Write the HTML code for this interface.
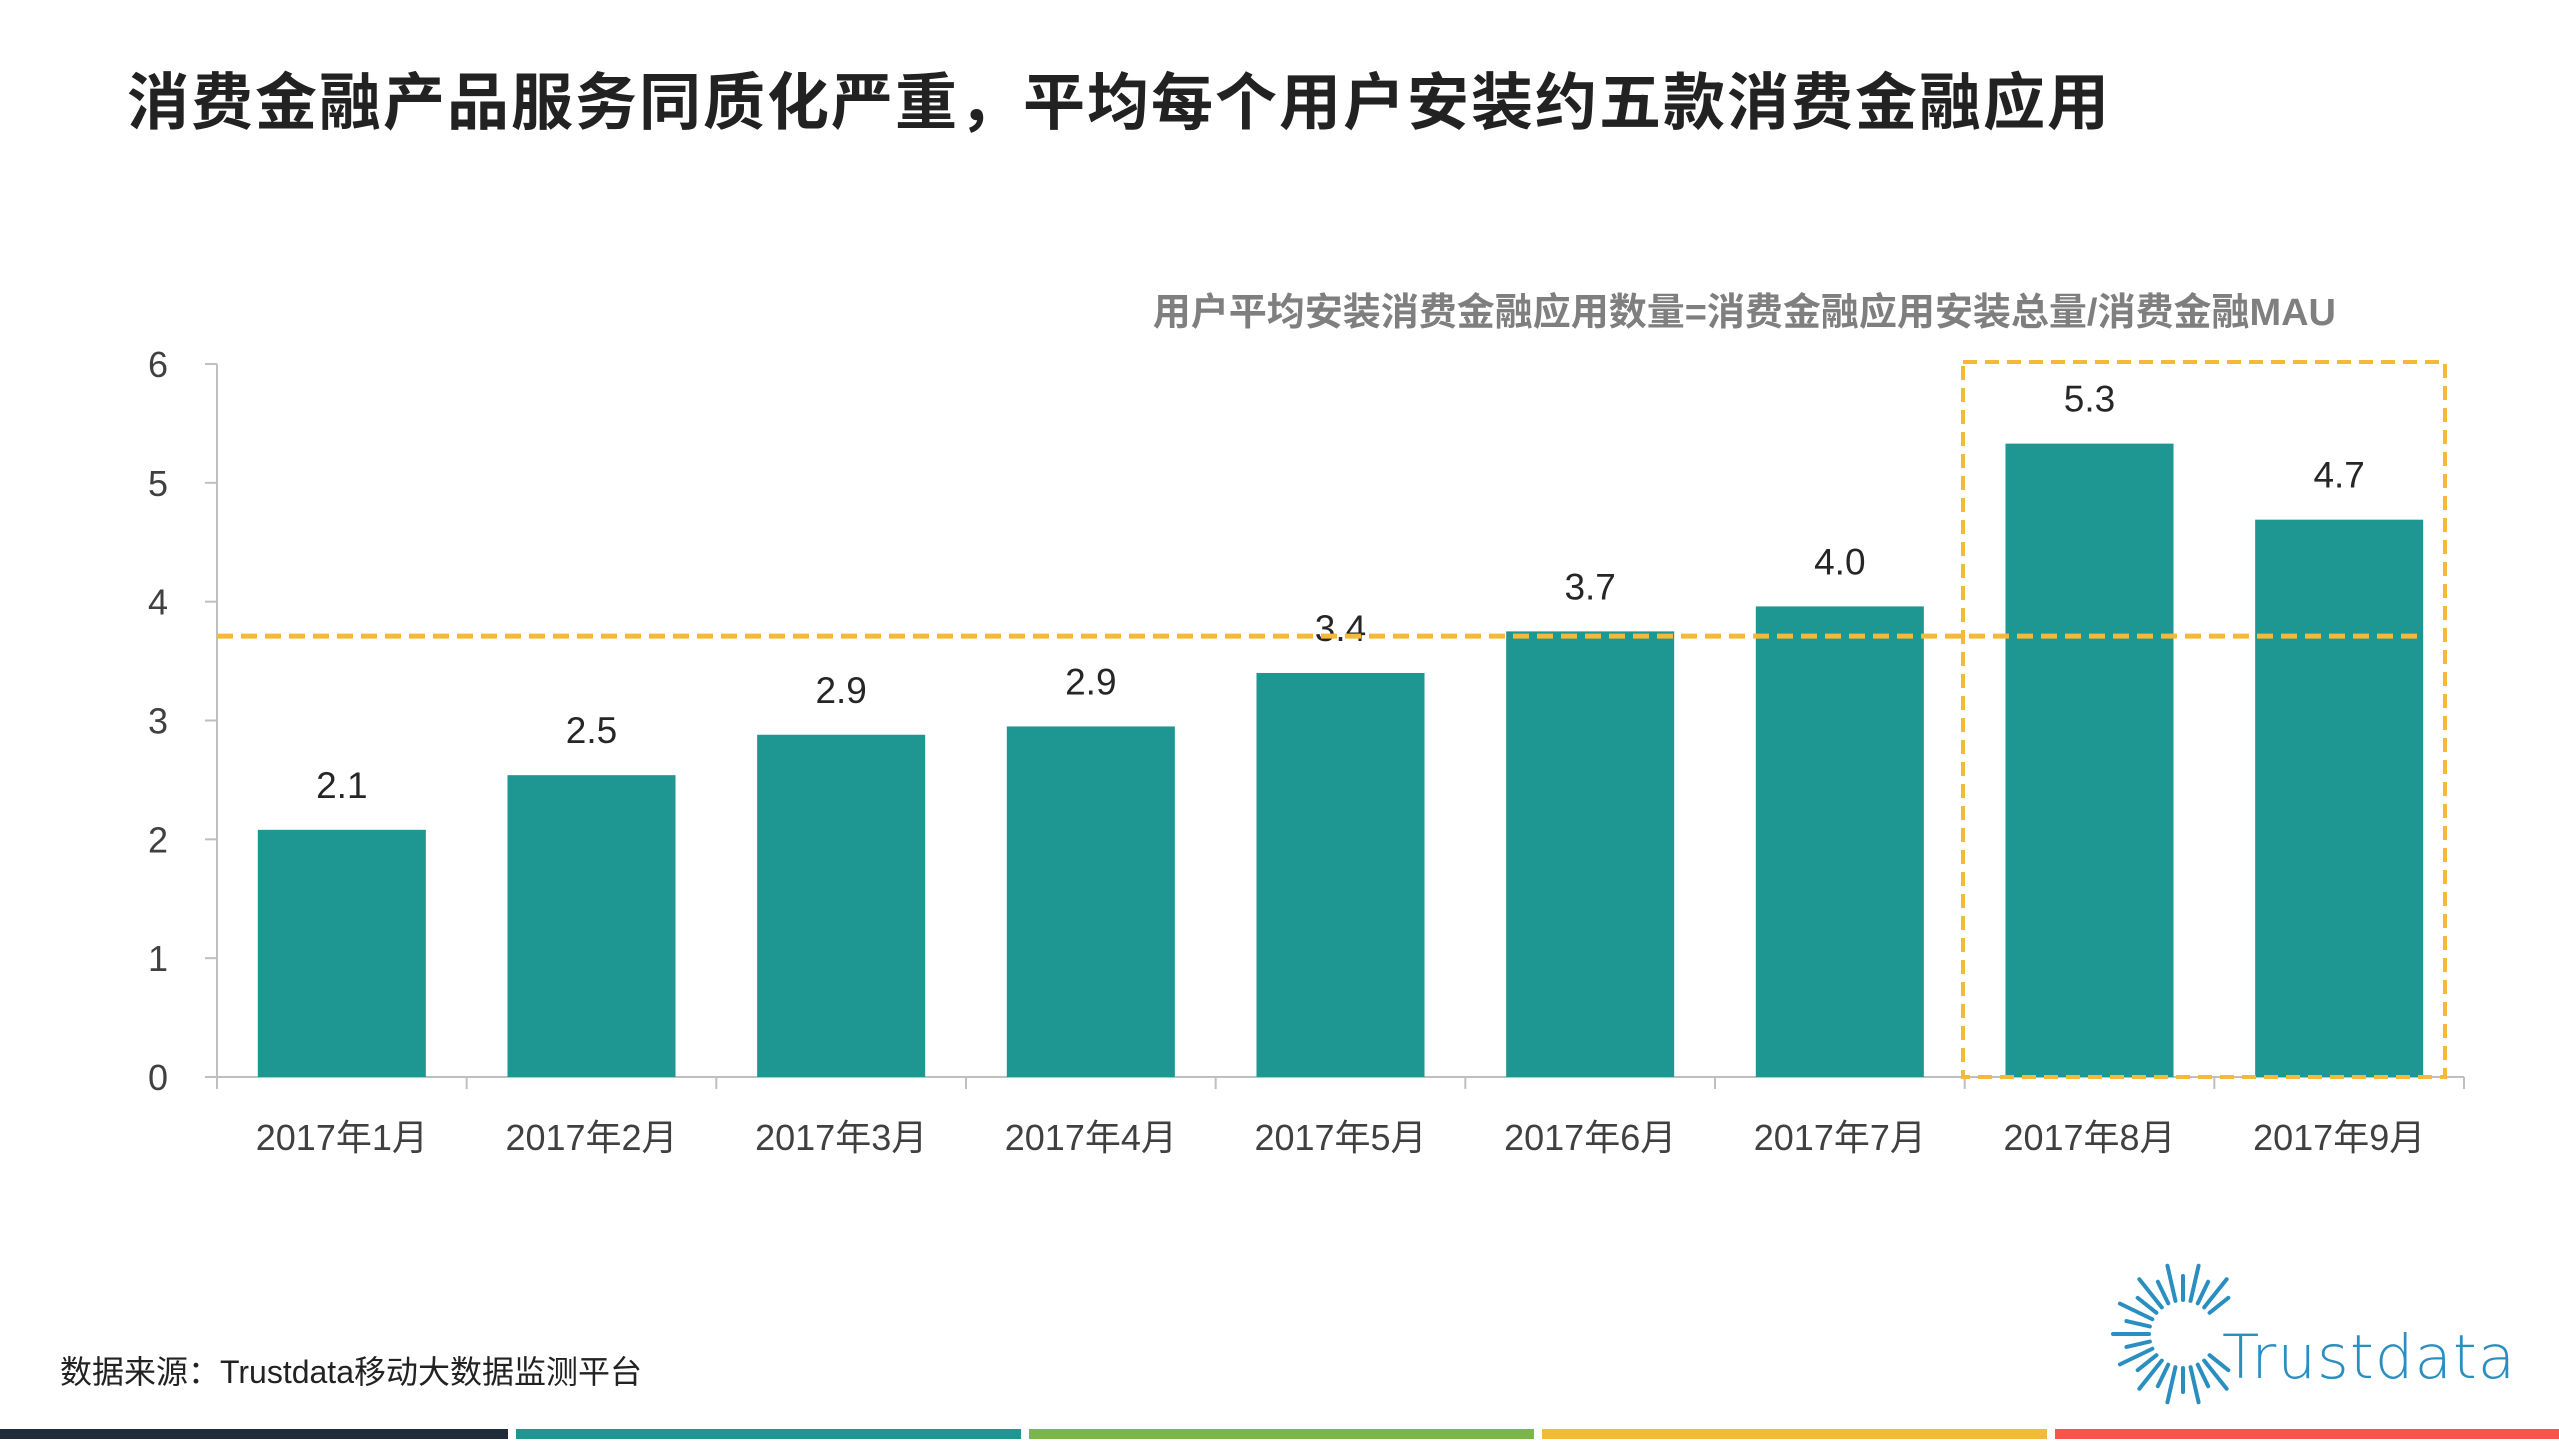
<!DOCTYPE html>
<html><head><meta charset="utf-8"><style>
body{margin:0;width:2559px;height:1439px;background:#fff;overflow:hidden;font-family:"Liberation Sans","Noto Sans CJK SC",sans-serif;}
</style></head><body>
<svg id="c" width="2559" height="1439" xmlns="http://www.w3.org/2000/svg">
<text x="127" y="124" font-size="62" font-weight="bold" fill="#222" letter-spacing="2" font-family="Liberation Sans, Noto Sans CJK SC, sans-serif">消费金融产品服务同质化严重，平均每个用户安装约五款消费金融应用</text>
<text x="2336" y="325" font-size="38" font-weight="bold" fill="#7f7f7f" text-anchor="end" font-family="Liberation Sans, Noto Sans CJK SC, sans-serif">用户平均安装消费金融应用数量=消费金融应用安装总量/消费金融MAU</text>
<g id="plot"></g>
<text x="60" y="1383" font-size="32" fill="#222" font-family="Liberation Sans, Noto Sans CJK SC, sans-serif">数据来源：Trustdata移动大数据监测平台</text>
<g id="logo"></g>
<text x="2222" y="1378" font-size="61" fill="#2a8fc0" font-family="DejaVu Sans, sans-serif" font-weight="200" letter-spacing="1">Trustdata</text>
<rect x="0" y="1429" width="508" height="10" fill="#1f2d3a"/>
<rect x="516" y="1429" width="505" height="10" fill="#1e9692"/>
<rect x="1029" y="1429" width="505" height="10" fill="#7ab648"/>
<rect x="1542" y="1429" width="505" height="10" fill="#f5b93a"/>
<rect x="2055" y="1429" width="504" height="10" fill="#f4564a"/>
</svg>
<script>
const categories=["2017年1月","2017年2月","2017年3月","2017年4月","2017年5月","2017年6月","2017年7月","2017年8月","2017年9月"];
const values=[2.08,2.54,2.88,2.95,3.40,3.75,3.96,5.33,4.69];
const valueLabels=["2.1","2.5","2.9","2.9","3.4","3.7","4.0","5.3","4.7"];
const yTicks=[0,1,2,3,4,5,6];
const averageValue=3.71;
const NS="http://www.w3.org/2000/svg";
const X0=217,X1=2464,Y0=1077,Y6=364;
const band=(X1-X0)/categories.length;
const y=v=>Y0-(Y0-Y6)*v/6;
const xc=i=>X0+band*(i+0.5);
const g=document.getElementById('plot');
function mk(t,a,txt){const e=document.createElementNS(NS,t);for(const k in a)e.setAttribute(k,a[k]);if(txt!==undefined)e.textContent=txt;g.appendChild(e);return e;}
let e;
e=mk('line',{x1:X0,y1:Y6,x2:X0,y2:Y0,stroke:'#bfbfbf','stroke-width':2});


e=mk('line',{x1:X0,y1:Y0,x2:X1,y2:Y0,stroke:'#bfbfbf','stroke-width':2});


yTicks.forEach(t=>{
 e=mk('line',{x1:X0-12,y1:y(t),x2:X0,y2:y(t),stroke:'#bfbfbf','stroke-width':2});
 
 
 e=mk('text',{x:168,y:y(t)+13,'font-size':36,fill:'#404040','text-anchor':'end'},String(t));
 
 
});
for(let i=0;i<=categories.length;i++){
 e=mk('line',{x1:X0+band*i,y1:Y0,x2:X0+band*i,y2:Y0+12,stroke:'#bfbfbf','stroke-width':2});
 
 
}
const bw=band*0.673;
categories.forEach((c,i)=>{
 e=mk('rect',{x:xc(i)-bw/2,y:y(values[i]),width:bw,height:Y0-y(values[i]),fill:'#1e9692'});
 
 
 e=mk('text',{x:xc(i),y:y(values[i])-32,'font-size':37,fill:'#262626','text-anchor':'middle'},valueLabels[i]);
 
 
 e=mk('text',{x:xc(i),y:1150,'font-size':36,fill:'#404040','text-anchor':'middle','font-family':'Liberation Sans, Noto Sans CJK SC, sans-serif'},c);
 
 
});
e=mk('line',{x1:X0,y1:y(averageValue),x2:2425,y2:y(averageValue),stroke:'#f5b93a','stroke-width':5,'stroke-dasharray':'16 8'});


e=mk('rect',{x:1963,y:362,width:482,height:715,fill:'none',stroke:'#f5b93a','stroke-width':4,'stroke-dasharray':'14 8'});


const L=document.getElementById('logo');
for(let k=0;k<28;k++){
 const a=k/28*Math.PI*2, r1=34, r2=(k%2?58:70);
 const l=document.createElementNS(NS,'line');
 l.setAttribute('x1',2183+r1*Math.cos(a));l.setAttribute('y1',1334+r1*Math.sin(a));
 l.setAttribute('x2',2183+r2*Math.cos(a));l.setAttribute('y2',1334+r2*Math.sin(a));
 l.setAttribute('stroke','#2a8fc0');l.setAttribute('stroke-width','4');l.setAttribute('stroke-linecap','round');
 if(Math.cos(a)>0.6&&Math.abs(Math.sin(a))<0.5)continue;
 L.appendChild(l);
}
</script>
</body></html>
